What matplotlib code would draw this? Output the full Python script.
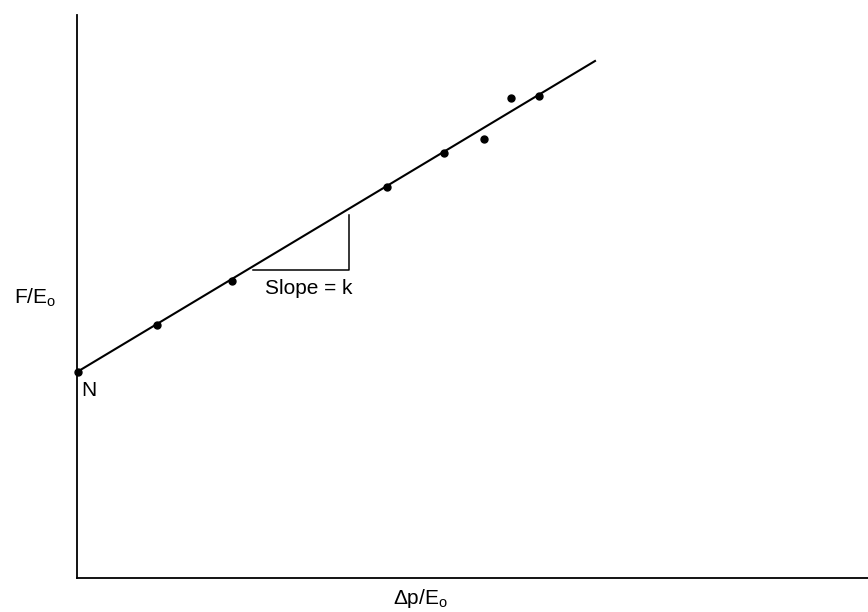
import matplotlib
matplotlib.use("Agg")
import matplotlib.pyplot as plt
import numpy as np

plt.rcParams['font.family'] = ['Liberation Sans', 'DejaVu Sans']
plt.rcParams['mathtext.fontset'] = 'custom'
plt.rcParams['mathtext.rm'] = 'Liberation Sans'
plt.rcParams['mathtext.it'] = 'Liberation Sans'

# measured points (dp/Eo, F/Eo) in arbitrary units
dp_e = [0.01, 0.80, 1.55, 3.10, 3.67, 4.07, 4.34, 4.62]
f_e = [2.06, 2.53, 2.97, 3.91, 4.25, 4.39, 4.80, 4.82]

# fitted line ends
line_x = [0.0, 5.18]
line_y = [2.06, 5.17]

# slope triangle
tri_x = [1.76, 2.72, 2.72]
tri_y = [3.08, 3.08, 3.63]

fig = plt.figure(figsize=(8.68, 6.12), dpi=100)
ax = fig.add_axes([77 / 868, 34 / 612, 791 / 868, 563 / 612])
ax.set_xlim(0, 7.91)
ax.set_ylim(0, 5.63)

ax.plot(line_x, line_y, color='black', lw=1.5)
ax.plot(dp_e, f_e, 'o', color='black', ms=5, clip_on=False, zorder=5)
ax.plot(tri_x, tri_y, color='black', lw=1.1)

ax.text(2.32, 2.90, 'Slope = k', ha='center', va='center', fontsize=15)
ax.text(0.12, 1.87, 'N', ha='center', va='center', fontsize=15)

ax.spines['top'].set_visible(False)
ax.spines['right'].set_visible(False)
ax.spines['left'].set_linewidth(1.3)
ax.spines['bottom'].set_linewidth(1.3)
ax.set_xticks([])
ax.set_yticks([])

fig.text(35 / 868, 1 - 298 / 612, r'F/E$_\mathrm{o}$', ha='center', va='center', fontsize=15)
fig.text(420 / 868, 1 - 598 / 612, r'$\Delta$p/E$_\mathrm{o}$', ha='center', va='center', fontsize=15)

fig.savefig('out.png', dpi=100)
